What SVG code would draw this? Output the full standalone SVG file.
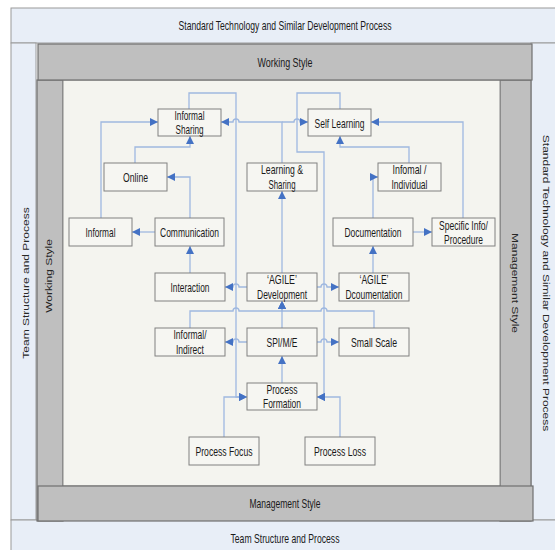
<svg xmlns="http://www.w3.org/2000/svg" width="555" height="550" viewBox="0 0 555 550">
<defs>
<marker id="arr" viewBox="0 0 10 10" refX="10" refY="5" markerWidth="9" markerHeight="8" markerUnits="userSpaceOnUse" orient="auto">
<path d="M0,0 L10,5 L0,10 z" fill="#4472c4"/>
</marker>
<style>
.lb{fill:#e8eef7;stroke:#9a9a9a;stroke-width:1}
.gb{fill:#bfbfbf;stroke:#707070;stroke-width:1.2}
.node rect{fill:#f6f6f2;stroke:#808080;stroke-width:1}
text{font-family:"Liberation Sans",Arial,sans-serif;fill:#1a1a1a}
.t{font-size:13.5px;text-anchor:middle}
.v{font-size:12px;text-anchor:middle;fill:#262626}
.c path{fill:none;stroke:#9fb8e0;stroke-width:1.3;marker-end:url(#arr)}
</style>
</defs>
<g id="frame">
<rect class="lb" x="11" y="8" width="560" height="35"/>
<rect class="lb" x="11" y="43" width="25" height="477"/>
<rect class="lb" x="531" y="43" width="40" height="477"/>
<rect class="lb" x="11" y="520" width="560" height="40"/>
<rect class="gb" x="37" y="80" width="26" height="441"/>
<rect class="gb" x="500" y="80" width="31" height="441"/>
<rect x="63" y="80" width="437" height="406" fill="#f4f4ef" stroke="#8a8a8a" stroke-width="1"/>
<rect class="gb" x="38" y="44" width="494" height="36"/>
<rect class="gb" x="38" y="486" width="495" height="35"/>
<text class="t" x="285" y="30" textLength="213" lengthAdjust="spacingAndGlyphs">Standard Technology and Similar Development Process</text>
<text class="t" x="285" y="67" textLength="55" lengthAdjust="spacingAndGlyphs">Working Style</text>
<text class="t" x="285" y="508" textLength="71" lengthAdjust="spacingAndGlyphs">Management Style</text>
<text class="t" x="285" y="543" textLength="109" lengthAdjust="spacingAndGlyphs">Team Structure and Process</text>
<text class="v" transform="translate(29,283) scale(0.8,1) rotate(-90)">Team Structure and Process</text>
<text class="v" transform="translate(52,276) scale(0.8,1) rotate(-90)">Working Style</text>
<text class="v" transform="translate(512,283) scale(0.8,1) rotate(90)">Management Style</text>
<text class="v" transform="translate(543,283) scale(0.8,1) rotate(90)">Standard Technology and Similar Development Process</text>
</g>
<g id="connectors" class="c">
<path d="M101,218 V122 H158"/>
<path d="M135,163 V147 H190 V136"/>
<path d="M190,218 V177 H167"/>
<path d="M155,232 H132"/>
<path d="M190,273 V246"/>
<path d="M282,163 V122 H239 a3,3 0 0 0 -6,0 H221"/>
<path d="M282,122 H294 a3,3 0 0 1 6,0 H308"/>
<path d="M189,109 V93 H236 V397 H247"/>
<path d="M340,109 V93 H297 V152 H324 V397 H317"/>
<path d="M224,437 V397 H247"/>
<path d="M340,437 V397 H317"/>
<path d="M282,273 V191"/>
<path d="M409,163 V147 H340 V136"/>
<path d="M463,218 V122 H371"/>
<path d="M373,218 V177 H378"/>
<path d="M413,232 H432"/>
<path d="M373,273 V246"/>
<path d="M247,287 H239 a3,3 0 0 0 -6,0 H225"/>
<path d="M317,287 H321 a3,3 0 0 1 6,0 H339"/>
<path d="M282,328 V301"/>
<path d="M190,328 V311 H233 a3,3 0 0 1 6,0 H282 V301"/>
<path d="M374,328 V311 H327 a3,3 0 0 0 -6,0 H282 V301"/>
<path d="M247,342 H239 a3,3 0 0 0 -6,0 H225"/>
<path d="M317,342 H321 a3,3 0 0 1 6,0 H339"/>
<path d="M282,383 V356"/>
</g>
<g id="n-informal-sharing" class="node"><rect x="158" y="109" width="63" height="27"/><text class="t" x="189.5" y="120" textLength="30" lengthAdjust="spacingAndGlyphs">Informal</text><text class="t" x="189.5" y="133.5" textLength="28" lengthAdjust="spacingAndGlyphs">Sharing</text></g>
<g id="n-self-learning" class="node"><rect x="308" y="109" width="63" height="27"/><text class="t" x="339.5" y="127.5" textLength="50" lengthAdjust="spacingAndGlyphs">Self Learning</text></g>
<g id="n-online" class="node"><rect x="104" y="163" width="63" height="28"/><text class="t" x="135.5" y="182" textLength="25" lengthAdjust="spacingAndGlyphs">Online</text></g>
<g id="n-learning-sharing" class="node"><rect x="247" y="163" width="70" height="28"/><text class="t" x="282" y="174" textLength="42" lengthAdjust="spacingAndGlyphs">Learning &amp;</text><text class="t" x="282" y="188.5" textLength="27" lengthAdjust="spacingAndGlyphs">Sharing</text></g>
<g id="n-informal-individual" class="node"><rect x="378" y="163" width="63" height="28"/><text class="t" x="409.5" y="174" textLength="34" lengthAdjust="spacingAndGlyphs">Infomal /</text><text class="t" x="409.5" y="188.5" textLength="36" lengthAdjust="spacingAndGlyphs">Individual</text></g>
<g id="n-informal" class="node"><rect x="69" y="218" width="63" height="28"/><text class="t" x="100.5" y="237" textLength="30" lengthAdjust="spacingAndGlyphs">Informal</text></g>
<g id="n-communication" class="node"><rect x="155" y="218" width="69" height="28"/><text class="t" x="189.5" y="237" textLength="59" lengthAdjust="spacingAndGlyphs">Communication</text></g>
<g id="n-documentation" class="node"><rect x="333" y="218" width="80" height="28"/><text class="t" x="373" y="237" textLength="57" lengthAdjust="spacingAndGlyphs">Documentation</text></g>
<g id="n-specific-info" class="node"><rect x="432" y="218" width="63" height="28"/><text class="t" x="463.5" y="229.5" textLength="49" lengthAdjust="spacingAndGlyphs">Specific Info/</text><text class="t" x="463.5" y="243.5" textLength="39" lengthAdjust="spacingAndGlyphs">Procedure</text></g>
<g id="n-interaction" class="node"><rect x="155" y="273" width="70" height="28"/><text class="t" x="190" y="292" textLength="39" lengthAdjust="spacingAndGlyphs">Interaction</text></g>
<g id="n-agile-development" class="node"><rect x="247" y="273" width="70" height="28"/><text class="t" x="282" y="284" textLength="30" lengthAdjust="spacingAndGlyphs">‘AGILE’</text><text class="t" x="282" y="298.5" textLength="50" lengthAdjust="spacingAndGlyphs">Development</text></g>
<g id="n-agile-documentation" class="node"><rect x="339" y="273" width="70" height="28"/><text class="t" x="374" y="284" textLength="29" lengthAdjust="spacingAndGlyphs">‘AGILE’</text><text class="t" x="374" y="298.5" textLength="57" lengthAdjust="spacingAndGlyphs">Dcoumentation</text></g>
<g id="n-informal-indirect" class="node"><rect x="155" y="328" width="70" height="28"/><text class="t" x="190" y="339" textLength="33" lengthAdjust="spacingAndGlyphs">Informal/</text><text class="t" x="190" y="353.5" textLength="28" lengthAdjust="spacingAndGlyphs">Indirect</text></g>
<g id="n-spi" class="node"><rect x="247" y="328" width="70" height="28"/><text class="t" x="282" y="347" textLength="31" lengthAdjust="spacingAndGlyphs">SPI/M/E</text></g>
<g id="n-small-scale" class="node"><rect x="339" y="328" width="70" height="28"/><text class="t" x="374" y="347" textLength="46" lengthAdjust="spacingAndGlyphs">Small Scale</text></g>
<g id="n-process-formation" class="node"><rect x="247" y="383" width="70" height="27"/><text class="t" x="282" y="394" textLength="31" lengthAdjust="spacingAndGlyphs">Process</text><text class="t" x="282" y="408" textLength="38" lengthAdjust="spacingAndGlyphs">Formation</text></g>
<g id="n-process-focus" class="node"><rect x="189" y="437" width="70" height="28"/><text class="t" x="224" y="456" textLength="57" lengthAdjust="spacingAndGlyphs">Process Focus</text></g>
<g id="n-process-loss" class="node"><rect x="305" y="437" width="70" height="28"/><text class="t" x="340" y="456" textLength="52" lengthAdjust="spacingAndGlyphs">Process Loss</text></g>
</svg>
